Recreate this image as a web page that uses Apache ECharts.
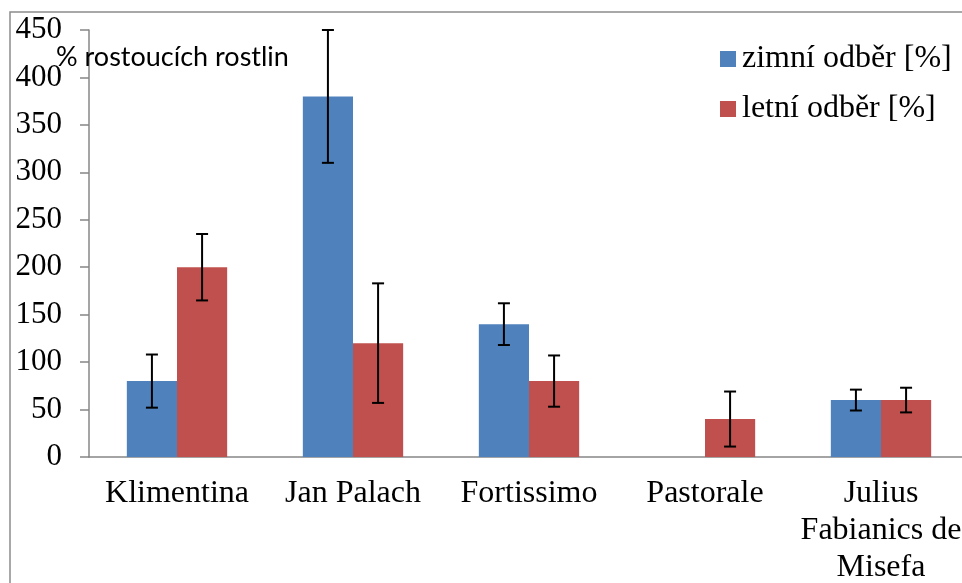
<!DOCTYPE html>
<html>
<head>
<meta charset="utf-8">
<script src="https://cdn.jsdelivr.net/npm/echarts@6/dist/echarts.min.js"></script>
<style>
  html, body { margin: 0; padding: 0; background: #fff; }
  #chart { width: 962px; height: 583px; }
</style>
</head>
<body>
<div id="chart"></div>
<script>
// data
const categories = ['Klimentina', 'Jan Palach', 'Fortissimo', 'Pastorale', 'Julius\nFabianics de\nMisefa'];
const zimni = [80, 380, 140, 0, 60];
const zimniErr = [28, 70, 22, null, 11];
const letni = [200, 120, 80, 40, 60];
const letniErr = [35, 63, 27, 29, 13];
const yTicks = { min: 0, max: 450, interval: 50 };

const colorBlue = '#4F81BD';
const colorRed = '#C0504D';
const axisGrey = '#878787';
const serif = '"Liberation Serif", "DejaVu Serif", serif';

const catGap = 0.43; // barCategoryGap

function errData(vals, errs) {
  let out = [];
  for (let i = 0; i < vals.length; i++) {
    if (errs[i] === null) continue;
    out.push([i, vals[i] - errs[i], vals[i] + errs[i]]);
  }
  return out;
}

function errorBar(side) {
  return function (params, api) {
    const band = api.size([1, 0])[0];
    const barW = band * (1 - catGap) / 2;
    const i = api.value(0);
    const lo = api.coord([i, api.value(1)]);
    const hi = api.coord([i, api.value(2)]);
    const x = lo[0] + side * barW / 2;
    const cap = 6;
    const style = { stroke: '#000', lineWidth: 2 };
    return {
      type: 'group',
      children: [
        { type: 'line', shape: { x1: x, y1: hi[1], x2: x, y2: lo[1] }, style: style },
        { type: 'line', shape: { x1: x - cap, y1: hi[1], x2: x + cap, y2: hi[1] }, style: style },
        { type: 'line', shape: { x1: x - cap, y1: lo[1], x2: x + cap, y2: lo[1] }, style: style }
      ]
    };
  };
}

const chart = echarts.init(document.getElementById('chart'));
const option = {
  animation: false,
  backgroundColor: '#fff',
  title: {
    text: '% rostoucích rostlin',
    left: 51,
    top: 39,
    textStyle: { fontFamily: 'Lato, "Open Sans", sans-serif', fontSize: 27, fontWeight: 'normal', color: '#000' }
  },
  graphic: [
    {
      type: 'rect',
      shape: { x: 10, y: 12, width: 1000, height: 700 },
      style: { fill: 'none', stroke: '#8c8c8c', lineWidth: 1.5 },
      silent: true,
      z: 0
    }
  ],
  legend: {
    orient: 'vertical',
    left: 715,
    top: 38,
    itemWidth: 16,
    itemHeight: 16,
    itemGap: 18,
    icon: 'rect',
    textStyle: { fontFamily: serif, fontSize: 32, color: '#000', padding: [0, 0, 0, 1] },
    data: ['zimní odběr [%]', 'letní odběr [%]']
  },
  grid: { left: 89, right: -7, top: 30, bottom: 126, outerBoundsMode: 'none' },
  xAxis: {
    type: 'category',
    data: categories,
    axisLine: { lineStyle: { color: axisGrey, width: 1.5 } },
    axisTick: { length: 8, lineStyle: { color: axisGrey, width: 1.5 } },
    axisLabel: {
      interval: 0,
      margin: 18,
      fontFamily: serif,
      fontSize: 32,
      lineHeight: 37,
      color: '#000'
    }
  },
  yAxis: {
    type: 'value',
    min: yTicks.min,
    max: yTicks.max,
    interval: yTicks.interval,
    splitLine: { show: false },
    axisLine: { show: true, lineStyle: { color: axisGrey, width: 1.5 } },
    axisTick: { show: true, length: 9, lineStyle: { color: axisGrey, width: 1.5 } },
    axisLabel: { margin: 27, fontFamily: serif, fontSize: 31, color: '#000' }
  },
  series: [
    {
      name: 'zimní odběr [%]',
      type: 'bar',
      data: zimni,
      barGap: '0%',
      barCategoryGap: (catGap * 100) + '%',
      itemStyle: { color: colorBlue },
      z: 2
    },
    {
      name: 'letní odběr [%]',
      type: 'bar',
      data: letni,
      barGap: '0%',
      barCategoryGap: (catGap * 100) + '%',
      itemStyle: { color: colorRed },
      z: 2
    },
    {
      type: 'custom',
      renderItem: errorBar(-1),
      data: errData(zimni, zimniErr),
      encode: { x: 0, y: [1, 2] },
      z: 5,
      silent: true
    },
    {
      type: 'custom',
      renderItem: errorBar(1),
      data: errData(letni, letniErr),
      encode: { x: 0, y: [1, 2] },
      z: 5,
      silent: true
    }
  ]
};
chart.setOption(option);
</script>
</body>
</html>
